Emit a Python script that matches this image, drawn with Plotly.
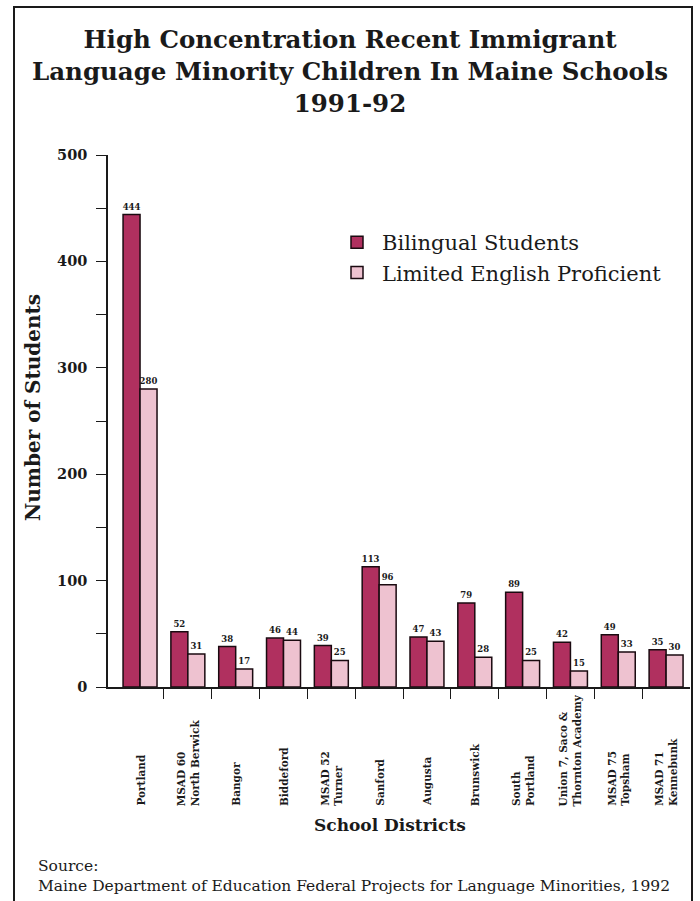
import plotly.graph_objects as go

districts = ["Portland", "MSAD 60<br>North Berwick", "Bangor", "Biddeford",
             "MSAD 52<br>Turner", "Sanford", "Augusta", "Brunswick",
             "South<br>Portland", "Union 7, Saco &<br>Thornton Academy",
             "MSAD 75<br>Topsham", "MSAD 71<br>Kennebunk"]
bilingual = [444, 52, 38, 46, 39, 113, 47, 79, 89, 42, 49, 35]
lep = [280, 31, 17, 44, 25, 96, 43, 28, 25, 15, 33, 30]
y_ticks = [0, 100, 200, 300, 400, 500]

SERIF = "DejaVu Serif"
INK = "#1a1a1a"
W, H = 700, 901
L, R, T, B = 108, 10, 155, 214
PW, PH = W - L - R, H - T - B

def px(x):
    return (x - L) / PW

def py(y):
    return (H - B - y) / PH

fig = go.Figure()
for name, vals, col in [("Bilingual Students", bilingual, "#b0305f"),
                        ("Limited English Proficient", lep, "#eec2d0")]:
    fig.add_trace(go.Bar(
        x=list(range(len(districts))), y=vals, name=name,
        marker=dict(color=col, line=dict(color="#1a0a10", width=1.5)),
        text=vals, textposition="outside", constraintext="none", cliponaxis=False,
        textfont=dict(family=SERIF, size=8.5, color=INK, weight="bold"),
    ))

fig.update_layout(
    width=W, height=H,
    margin=dict(l=L, r=R, t=T, b=B),
    paper_bgcolor="white", plot_bgcolor="white",
    barmode="group", bargap=0.29, bargroupgap=0,
    font=dict(family=SERIF, color=INK),
    legend=dict(
        x=px(332), y=py(222), xanchor="left", yanchor="top",
        font=dict(family=SERIF, size=21, color=INK),
        bgcolor="rgba(0,0,0,0)", itemwidth=40,
    ),
    showlegend=True,
)

fig.update_xaxes(
    range=[-0.67, 11.5], tickmode="array", tickvals=list(range(len(districts))),
    showticklabels=False, showline=True, linecolor=INK, linewidth=1.5,
    ticks="", showgrid=False, zeroline=False,
    minor=dict(tickmode="array", tickvals=[i + 0.5 for i in range(len(districts) - 1)],
               ticks="outside", ticklen=10, tickcolor=INK, tickwidth=1.2, showgrid=False),
)
fig.update_yaxes(
    range=[0, 500], tickmode="array", tickvals=y_ticks,
    ticks="outside", ticklen=10, tickcolor=INK, tickwidth=1,
    minor=dict(dtick=50, ticks="outside", ticklen=10, tickcolor=INK, tickwidth=1, showgrid=False),
    showline=True, linecolor=INK, linewidth=1.5, showgrid=False, zeroline=False,
    tickfont=dict(family=SERIF, size=14.5, color=INK, weight="bold"),
    ticklabelstandoff=6,
)

annotations = [
    dict(x=px(350), y=py(72), xref="paper", yref="paper", xanchor="center", yanchor="middle",
         text="<b>High Concentration Recent Immigrant<br>Language Minority Children In Maine Schools<br>1991-92</b>",
         showarrow=False, font=dict(family=SERIF, size=24.5, color=INK)),
]
for i, d in enumerate(districts):
    annotations.append(dict(
        x=i, xref="x", y=py(808), yref="paper", text="<b>" + d + "</b>",
        textangle=-90, xanchor="center", yanchor="bottom", align="left",
        showarrow=False, font=dict(family=SERIF, size=10.5, color=INK),
    ))
annotations += [
    dict(x=px(33), y=py(408), xref="paper", yref="paper", text="<b>Number of Students</b>",
         xanchor="center", yanchor="middle",
         textangle=-90, showarrow=False, font=dict(family=SERIF, size=20, color=INK)),
    dict(x=px(390), y=py(825), xref="paper", yref="paper", text="<b>School Districts</b>",
         xanchor="center", yanchor="middle",
         showarrow=False, font=dict(family=SERIF, size=17, color=INK)),
    dict(x=px(36), y=py(866), xref="paper", yref="paper", text="Source:",
         xanchor="left", yanchor="middle",
         showarrow=False, font=dict(family=SERIF, size=15.5, color=INK)),
    dict(x=px(36), y=py(886), xref="paper", yref="paper",
         xanchor="left", yanchor="middle",
         text="Maine Department of Education Federal Projects for Language Minorities, 1992",
         showarrow=False, font=dict(family=SERIF, size=15.5, color=INK)),
]
fig.update_layout(annotations=annotations)

fig.add_shape(type="rect", xref="paper", yref="paper",
              x0=px(14), x1=px(692), y0=py(950), y1=py(7),
              line=dict(color=INK, width=2), fillcolor="rgba(0,0,0,0)", layer="below")

fig.write_html("out.html")
